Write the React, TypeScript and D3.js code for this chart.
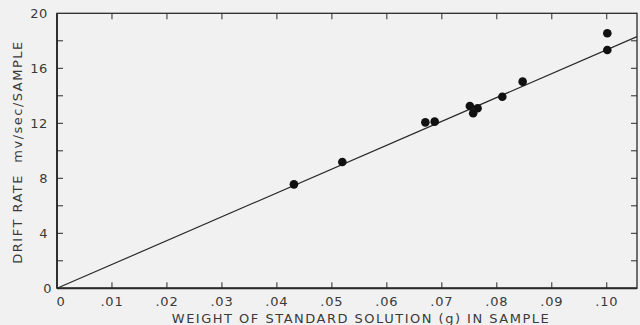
import React from "react";
import * as d3 from "d3";

const weights = [0.0431, 0.0519, 0.067, 0.0687, 0.0751, 0.0757, 0.0765, 0.081, 0.0847, 0.1001, 0.1001];
const rates = [7.56, 9.19, 12.07, 12.12, 13.26, 12.73, 13.09, 13.93, 15.03, 18.55, 17.33];
const fitLine = [
  [0, 0],
  [0.1055, 18.3],
];
const xTicks = [0, 0.01, 0.02, 0.03, 0.04, 0.05, 0.06, 0.07, 0.08, 0.09, 0.1];
const xTickLabels = ["0", ".01", ".02", ".03", ".04", ".05", ".06", ".07", ".08", ".09", ".10"];
const yMinorTicks = [2, 4, 6, 8, 10, 12, 14, 16, 18];
const yTickLabels = [0, 4, 8, 12, 16, 20];

export default function App() {
  const W = 640, H = 325;
  const left = 57, right = 637, top = 13.3, bottom = 288.3;
  const x = d3.scaleLinear().domain([0, 0.1055]).range([left, right]);
  const y = d3.scaleLinear().domain([0, 20]).range([bottom, top]);
  const ink = "#2a2a2a";
  const txt = "#3a3a3a";
  const line = d3.line<number[]>().x((d) => x(d[0])).y((d) => y(d[1]));
  const font = "'DejaVu Sans', 'Liberation Sans', sans-serif";
  return (
    <svg width={W} height={H} style={{ position: "absolute", left: 0, top: 0, background: "#f1f1f1" }}>
      <rect x={0} y={0} width={W} height={H} fill="#f1f1f1" />
      {xTicks.slice(1).map((t, i) => (
        <g key={"xt" + i}>
          <line x1={x(t)} x2={x(t)} y1={top} y2={top + 6} stroke={ink} strokeWidth={1} />
          <line x1={x(t)} x2={x(t)} y1={bottom} y2={bottom - 6} stroke={ink} strokeWidth={1} />
        </g>
      ))}
      {yMinorTicks.map((t, i) => (
        <g key={"yt" + i}>
          <line x1={left} x2={left + 6} y1={y(t)} y2={y(t)} stroke={ink} strokeWidth={1} />
          <line x1={right} x2={right - 6} y1={y(t)} y2={y(t)} stroke={ink} strokeWidth={1} />
        </g>
      ))}
      <rect x={left} y={top} width={right - left} height={bottom - top} fill="none" stroke={ink} strokeWidth={1.3} />
      <line x1={left} x2={right} y1={bottom} y2={bottom} stroke={ink} strokeWidth={2} />
      <line x1={left} x2={left} y1={top} y2={bottom} stroke={ink} strokeWidth={1.8} />
      <path d={line(fitLine as number[][]) || ""} fill="none" stroke={ink} strokeWidth={1.2} />
      {weights.map((w, i) => (
        <circle key={"p" + i} cx={x(w)} cy={y(rates[i])} r={4.3} fill="#111" />
      ))}
      {xTicks.map((t, i) => (
        <text key={"xl" + i} x={x(t) + (i === 0 ? 4 : 0)} y={306} textAnchor="middle" fontFamily={font} fontSize={13} letterSpacing={0.8} fill={txt}>
          {xTickLabels[i]}
        </text>
      ))}
      {yTickLabels.map((t, i) => (
        <text key={"yl" + i} x={t === 0 ? 52 : 48} y={y(t) + 5} textAnchor="end" fontFamily={font} fontSize={13} letterSpacing={0.6} fill={txt}>
          {t}
        </text>
      ))}
      <text x={361} y={323} textAnchor="middle" fontFamily={font} fontSize={13} letterSpacing={1.5} fill={txt}>
        WEIGHT OF STANDARD SOLUTION (g) IN SAMPLE
      </text>
      <text transform="translate(22,152) rotate(-90)" textAnchor="middle" fontFamily={font} fontSize={13} letterSpacing={1.5} fill={txt} style={{ whiteSpace: "pre" }}>
        {"DRIFT RATE  mv/sec/SAMPLE"}
      </text>
    </svg>
  );
}
